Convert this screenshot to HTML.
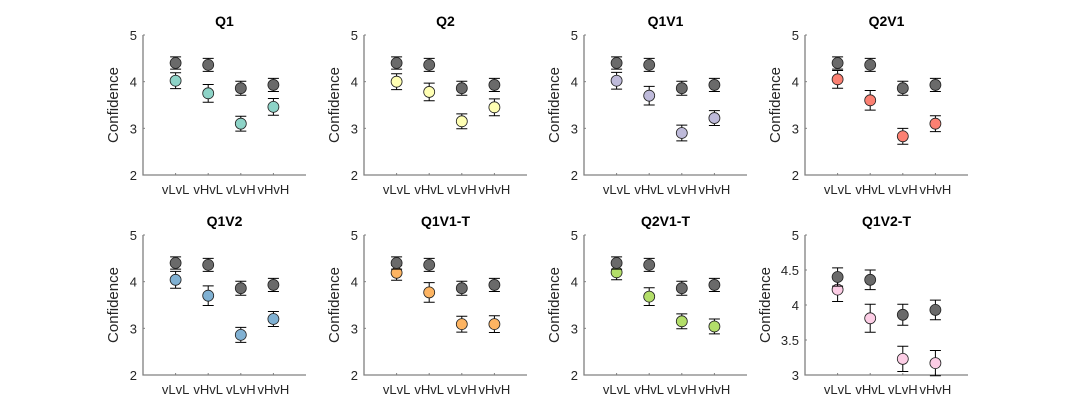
<!DOCTYPE html>
<html><head><meta charset="utf-8"><style>
body{margin:0;background:#fff;}
svg{display:block;font-family:"Liberation Sans",Arial,sans-serif;}
</style></head><body>
<svg id="fig" width="1070" height="420" viewBox="0 0 1070 420"></svg>
<script>
const categories = ["vLvL","vHvL","vLvH","vHvH"];
const panelTitles = ["Q1","Q2","Q1V1","Q2V1","Q1V2","Q1V1-T","Q2V1-T","Q1V2-T"];
const panelColors = ["#8dd3c7","#ffffb3","#bebada","#fb8072","#80b1d3","#fdb462","#b3de69","#fccde5"];
const baselineMean = [4.40,4.36,3.86,3.93];
const baselineErr = [0.13,0.14,0.15,0.14];
const q1Mean = [4.02,3.75,3.10,3.46];
const q2Mean = [4.00,3.78,3.15,3.45];
const q1v1Mean = [4.02,3.70,2.90,3.22];
const q2v1Mean = [4.05,3.60,2.83,3.10];
const q1v2Mean = [4.04,3.70,2.86,3.20];
const q1v1tMean = [4.19,3.77,3.09,3.09];
const q2v1tMean = [4.20,3.68,3.15,3.04];
const q1v2tMean = [4.22,3.81,3.23,3.17];
const q1Err = [0.17,0.19,0.16,0.18];
const q2Err = [0.17,0.19,0.16,0.18];
const q1v1Err = [0.18,0.20,0.17,0.16];
const q2v1Err = [0.19,0.21,0.17,0.17];
const q1v2Err = [0.18,0.21,0.16,0.16];
const q1v1tErr = [0.16,0.21,0.17,0.18];
const q2v1tErr = [0.16,0.19,0.16,0.16];
const q1v2tErr = [0.17,0.20,0.18,0.18];
const yTicksDefault = [2,3,4,5];
const yTicksLast = [3,3.5,4,4.5,5];

const allMeans=[q1Mean,q2Mean,q1v1Mean,q2v1Mean,q1v2Mean,q1v1tMean,q2v1tMean,q1v2tMean];
const allErrs=[q1Err,q2Err,q1v1Err,q2v1Err,q1v2Err,q1v1tErr,q2v1tErr,q1v2tErr];
const NS="http://www.w3.org/2000/svg";
const svg=document.getElementById('fig');
function mk(tag,attrs,parent){const e=document.createElementNS(NS,tag);for(const k in attrs)e.setAttribute(k,attrs[k]);parent.appendChild(e);return e;}
const colX=[143,364,584,805], rowY=[35,235], W=163, H=140;
for(let p=0;p<8;p++){
  const left=colX[p%4], top=rowY[Math.floor(p/4)];
  const ticks = p===7?yTicksLast:yTicksDefault;
  const y0=ticks[0], y1=ticks[ticks.length-1];
  const sx=v=>left+v/5*W;
  const sy=v=>top+H-(v-y0)/(y1-y0)*H;
  const g=mk('g',{},svg);
  
  
  const t=mk('text',{x:left+W/2,y:top-9,'text-anchor':'middle','font-size':'14','font-weight':'bold',fill:'#000'},g);
  t.textContent=panelTitles[p];
  
  
  const off = p===7?35:25;
  const yl=mk('text',{x:0,y:0,'text-anchor':'middle','font-size':'15',fill:'#262626',transform:`translate(${left-off},${top+H/2}) rotate(-90)`},g);
  yl.textContent='Confidence';
  
  
  ticks.forEach(v=>{
    const y=sy(v);
    mk('line',{x1:left,x2:left+2,y1:y,y2:y,stroke:'#808080'},g);
    const tl=mk('text',{x:left-6,y:y+5,'text-anchor':'end','font-size':'13',fill:'#262626'},g);
    tl.textContent=String(v);
    
    
  });
  categories.forEach((c,i)=>{
    const x=sx(i+1);
    mk('line',{x1:x,x2:x,y1:top+H,y2:top+H-2,stroke:'#808080'},g);
    const xl=mk('text',{x:x,y:top+H+19,'text-anchor':'middle','font-size':'13',fill:'#262626'},g);
    xl.textContent=c;
    
    
  });
  mk('path',{d:`M${left},${top}V${top+H}H${left+W}`,fill:'none',stroke:'#808080','stroke-width':'1.3'},g);
  function series(means,errs,color,name){
    means.forEach((m,i)=>{
      const x=sx(i+1), ya=sy(m+errs[i]), yb=sy(m-errs[i]);
      mk('path',{d:`M${x},${ya}V${yb}M${x-5.5},${ya}H${x+5.5}M${x-5.5},${yb}H${x+5.5}`,stroke:'#000','stroke-width':'1',fill:'none'},g);
      const c=mk('circle',{cx:x,cy:sy(m),r:5.5,fill:color,stroke:'#222','stroke-width':'0.8'},g);
      
      
    });
  }
  series(allMeans[p],allErrs[p],panelColors[p],'condition');
  series(baselineMean,baselineErr,'#6a6a6a','baseline');
}
</script>
</body></html>
